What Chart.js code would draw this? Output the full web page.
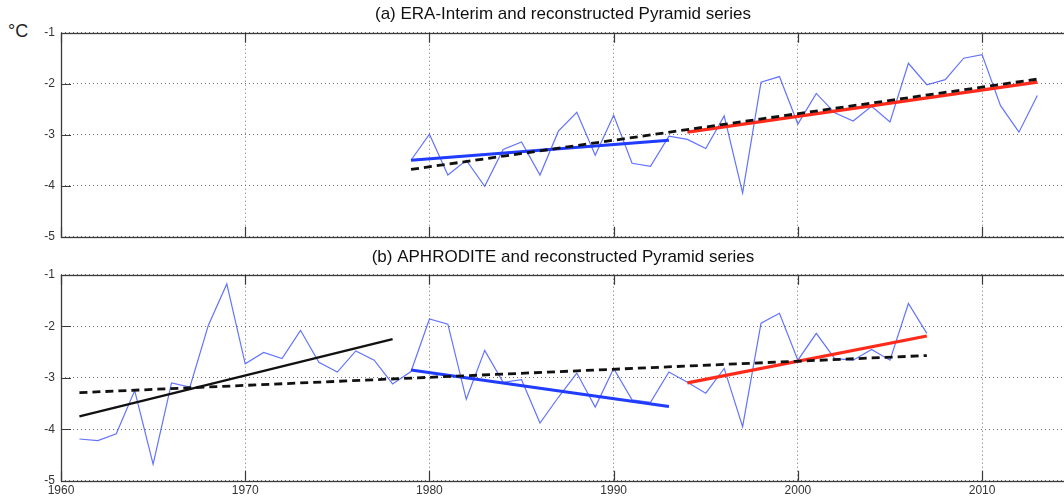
<!DOCTYPE html>
<html>
<head>
<meta charset="utf-8">
<script src="https://cdn.jsdelivr.net/npm/chart.js@4.4.0/dist/chart.umd.min.js"></script>
<style>
body { margin: 0; background: #fff; overflow: hidden; width: 1064px; height: 499px; position: relative; }
canvas { position: absolute; left: 0; }
#unit { position: absolute; left: 8px; top: 21px; font: 18px "Liberation Sans", Arial, sans-serif; color: #222; }
</style>
</head>
<body>
<span id="unit">°C</span>
<canvas id="chartA" width="1066" height="250" style="top:0"></canvas>
<canvas id="chartB" width="1066" height="254" style="top:245px"></canvas>
<script>
const xTicks = [1960, 1970, 1980, 1990, 2000, 2010];
const yTicks = [-5, -4, -3, -2, -1];

// ERA-Interim annual means, 1979-2013
const eraStart = 1979;
const eraValues = [-3.50, -2.99, -3.79, -3.50, -4.01, -3.29, -3.14, -3.79, -2.93, -2.56,
                   -3.40, -2.62, -3.56, -3.62, -3.03, -3.09, -3.27, -2.63, -4.14, -1.97,
                   -1.86, -2.79, -2.19, -2.57, -2.73, -2.44, -2.75, -1.60, -2.02, -1.92,
                   -1.50, -1.43, -2.43, -2.95, -2.23];

// APHRODITE annual means, 1961-2007
const aphStart = 1961;
const aphValues = [-4.19, -4.22, -4.09, -3.25, -4.68, -3.10, -3.18, -1.98, -1.18, -2.73,
                   -2.51, -2.63, -2.08, -2.70, -2.89, -2.48, -2.66, -3.12, -2.88, -1.86,
                   -1.96, -3.42, -2.47, -3.09, -3.04, -3.88, -3.38, -2.91, -3.57, -2.82,
                   -3.43, -3.48, -2.89, -3.09, -3.30, -2.82, -3.95, -1.94, -1.75, -2.66,
                   -2.14, -2.63, -2.66, -2.45, -2.66, -1.56, -2.14];

// linear trends: [startYear, endYear], [startValue, endValue]
const eraTrendEarlyYears = [1979, 1993];
const eraTrendEarly = [-3.50, -3.11];
const eraTrendLateYears = [1994, 2013];
const eraTrendLate = [-2.95, -1.97];
const eraPyramidYears = [1979, 2013];
const eraPyramid = [-3.68, -1.91];

const aphTrendFirstYears = [1961, 1978];
const aphTrendFirst = [-3.75, -2.25];
const aphTrendEarlyYears = [1979, 1993];
const aphTrendEarly = [-2.85, -3.56];
const aphTrendLateYears = [1994, 2007];
const aphTrendLate = [-3.10, -2.19];
const aphPyramidYears = [1961, 2007];
const aphPyramid = [-3.29, -2.57];

const fontFamily = '"Liberation Sans", Arial, Helvetica, sans-serif';

function toPoints(years, values) {
    return values.map((v, i) => ({ x: years[i], y: v }));
}

function seriesPoints(start, values) {
    return values.map((v, i) => ({ x: start + i, y: v }));
}

function line(points, color, width, dash) {
    return {
        data: points,
        borderColor: color,
        borderWidth: width,
        borderDash: dash || [],
        pointRadius: 0,
        tension: 0,
        fill: false
    };
}

// box round the plot area with matlab style inward ticks
const frameTicks = {
    id: 'frameTicks',
    beforeDatasetsDraw(chart) {
        const ctx = chart.ctx;
        const a = chart.chartArea;
        const xs = chart.scales.x;
        const ys = chart.scales.y;
        const len = 10;
        ctx.save();
        ctx.strokeStyle = '#3a3a3a';
        ctx.lineWidth = 1.2;
        ctx.beginPath();
        xTicks.forEach(t => {
            const px = Math.round(xs.getPixelForValue(t)) + 0.5;
            ctx.moveTo(px, a.bottom);
            ctx.lineTo(px, a.bottom - len);
            ctx.moveTo(px, a.top);
            ctx.lineTo(px, a.top + len);
        });
        yTicks.forEach(t => {
            const py = Math.round(ys.getPixelForValue(t)) + 0.5;
            ctx.moveTo(a.left, py);
            ctx.lineTo(a.left + len, py);
        });
        ctx.stroke();
        ctx.lineWidth = 1.3;
        ctx.strokeRect(Math.round(a.left) + 0.5, Math.round(a.top) + 0.5,
                       Math.round(a.right - a.left), Math.round(a.bottom - a.top));
        ctx.restore();
    }
};

function createPanel(canvasId, title, titlePad, datasets, showYears, padBottom, xHeight) {
    return new Chart(document.getElementById(canvasId), {
        type: 'line',
        data: { datasets: datasets },
        plugins: [frameTicks],
        options: {
            responsive: false,
            animation: false,
            devicePixelRatio: 1,
            layout: { padding: { top: 0, left: 0, right: 1, bottom: padBottom } },
            plugins: {
                legend: { display: false },
                tooltip: { enabled: false },
                title: {
                    display: true,
                    text: title,
                    fullSize: false,
                    color: '#111',
                    font: { family: fontFamily, size: 17, weight: 'normal', lineHeight: 1.2 },
                    padding: titlePad
                }
            },
            scales: {
                x: {
                    type: 'linear',
                    min: 1960,
                    max: 2014.5,
                    afterFit(scale) { scale.height = xHeight; },
                    afterBuildTicks(scale) { scale.ticks = xTicks.map(v => ({ value: v })); },
                    grid: { color: '#6f6f6f', lineWidth: 1, drawTicks: false },
                    border: { display: false, dash: [1, 3] },
                    ticks: {
                        display: showYears,
                        padding: 3,
                        maxRotation: 0,
                        color: '#333',
                        font: { family: fontFamily, size: 12 },
                        callback: v => String(v)
                    }
                },
                y: {
                    min: -5,
                    max: -1,
                    afterFit(scale) { scale.width = 61; },
                    afterBuildTicks(scale) { scale.ticks = yTicks.map(v => ({ value: v })); },
                    grid: { color: '#6f6f6f', lineWidth: 1, drawTicks: false },
                    border: { display: false, dash: [1, 3] },
                    ticks: {
                        padding: 6,
                        color: '#333',
                        font: { family: fontFamily, size: 12 },
                        callback: v => String(v)
                    }
                }
            }
        }
    });
}

createPanel('chartA', '(a) ERA-Interim and reconstructed Pyramid series', { top: 4, bottom: 8.3 }, [
    line(toPoints(eraPyramidYears, eraPyramid), '#111', 2.8, [8, 5]),
    line(toPoints(eraTrendLateYears, eraTrendLate), '#ff2a1a', 3.2),
    line(toPoints(eraTrendEarlyYears, eraTrendEarly), '#1f3cff', 3),
    line(seriesPoints(eraStart, eraValues), 'rgba(70,90,255,0.85)', 1.2)
], false, 12, 0);

createPanel('chartB', '(b) APHRODITE and reconstructed Pyramid series', { top: 2, bottom: 7.3 }, [
    line(toPoints(aphPyramidYears, aphPyramid), '#111', 2.8, [8, 5]),
    line(toPoints(aphTrendFirstYears, aphTrendFirst), '#111', 2.4),
    line(toPoints(aphTrendLateYears, aphTrendLate), '#ff2a1a', 3.2),
    line(toPoints(aphTrendEarlyYears, aphTrendEarly), '#1f3cff', 3),
    line(seriesPoints(aphStart, aphValues), 'rgba(70,90,255,0.85)', 1.2)
], true, 0, 18.3);
</script>
</body>
</html>
